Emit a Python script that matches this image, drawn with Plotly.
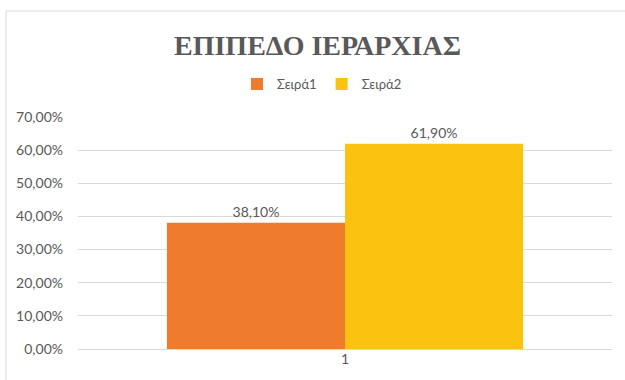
import plotly.graph_objects as go

# Chart data
categories = ["1"]
series_names = ["Σειρά1", "Σειρά2"]
series1_values = [0.381]
series2_values = [0.619]
y_tick_values = [0.0, 0.1, 0.2, 0.3, 0.4, 0.5, 0.6, 0.7]

colors = ["#EF7B2D", "#FBC20F"]
text_color = "#595959"
grid_color = "#D9D9D9"
body_font = "Lato, Open Sans, sans-serif"

fig = go.Figure()
for name, vals, col in zip(series_names, [series1_values, series2_values], colors):
    fig.add_trace(go.Bar(
        x=categories,
        y=vals,
        name=name,
        marker=dict(color=col, line=dict(width=0)),
        texttemplate="%{y:.2%}",
        textposition="outside",
        textfont=dict(family=body_font, size=14, color=text_color),
        cliponaxis=False,
    ))

W, H = 625, 380
L, R, T, B = 78, 13, 117, 31
pw, ph = W - L - R, H - T - B

def px_x(p):
    return (p - L) / pw

def px_y(p):
    return (H - B - p) / ph

fig.update_layout(
    width=W,
    height=H,
    autosize=False,
    margin=dict(l=L, r=R, t=T, b=B, autoexpand=False),
    paper_bgcolor="white",
    plot_bgcolor="white",
    separators=",.",
    barmode="group",
    bargap=0.333,
    bargroupgap=0,
    title=dict(
        text="<b>ΕΠΙΠΕΔΟ ΙΕΡΑΡΧΙΑΣ</b>",
        x=0.508,
        xref="container",
        xanchor="center",
        y=1 - 45 / H,
        yref="container",
        yanchor="middle",
        font=dict(family="Liberation Serif, Times New Roman, serif", size=28, color=text_color),
    ),
    legend=dict(
        orientation="h",
        x=px_x(322),
        xref="paper",
        xanchor="center",
        y=px_y(84),
        yref="paper",
        yanchor="middle",
        font=dict(family=body_font, size=13, color=text_color),
        itemwidth=30,
    ),
    showlegend=True,
    xaxis=dict(
        showgrid=False,
        showline=False,
        ticks="",
        tickfont=dict(family=body_font, size=14, color=text_color),
    ),
    yaxis=dict(
        range=[0, 0.7],
        tickvals=y_tick_values,
        tickformat=".2%",
        showgrid=True,
        gridcolor=grid_color,
        gridwidth=1,
        zeroline=True,
        zerolinecolor=grid_color,
        zerolinewidth=1,
        showline=False,
        ticks="",
        ticklabelstandoff=14,
        tickfont=dict(family=body_font, size=14, color=text_color),
    ),
    shapes=[
        dict(
            type="rect",
            xref="paper",
            yref="paper",
            x0=px_x(6),
            x1=px_x(640),
            y0=px_y(395),
            y1=px_y(11),
            line=dict(color="#D9D9D9", width=1),
            fillcolor="rgba(0,0,0,0)",
            layer="below",
        )
    ],
)

fig.write_html("out.html")
